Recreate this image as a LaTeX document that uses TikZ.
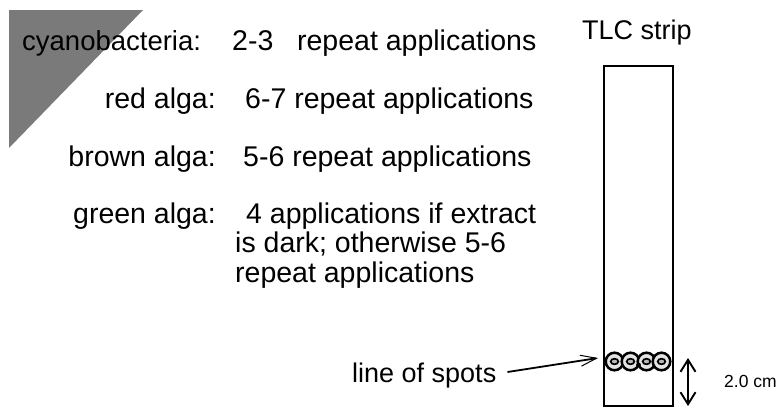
\documentclass[tikz,border=0pt]{standalone}
\usepackage{fontspec}
\setmainfont{Liberation Sans}
\usetikzlibrary{arrows.meta}

\tikzset{
  big/.style={inner sep=0pt, font=\fontsize{28.5}{33}\selectfont},
  mid/.style={inner sep=0pt, font=\fontsize{27}{32}\selectfont},
  small/.style={inner sep=0pt, font=\fontsize{17.5}{21}\selectfont},
  lbl/.style={big, anchor=base east},
  val/.style={big, anchor=base west},
  spot/.style={draw=black, line width=2.5pt, fill=gray!22},
  spotcore/.style={draw=black, line width=1.7pt, fill=gray!55},
  pointer/.style={line width=1.8pt, -{Straight Barb[length=16pt,width=11pt,line width=1pt]}},
  span/.style={line width=1.7pt, {Straight Barb[length=12pt,width=15pt,line width=1.9pt]}-{Straight Barb[length=12pt,width=15pt,line width=1.9pt]}}
}

\begin{document}
\begin{tikzpicture}[x=1pt, y=-1pt]
\useasboundingbox (0,0) rectangle (784,407);

% shaded corner
\fill[black!52] (9,10) -- (143,10) -- (9,148) -- cycle;

% algae and number of applications
\node[val, font=\fontsize{27.5}{33}\selectfont] (cyanoL) at (22,50) {cyanobacteria:};
\node[val] (cyanoV) at (232,50) {2-3\ \ \ repeat applications};

\node[lbl] (redL) at (216,108) {red alga:};
\node[val] (redV) at (245,108) {6-7 repeat applications};

\node[lbl] (brownL) at (216,166) {brown alga:};
\node[val] (brownV) at (243,166) {5-6 repeat applications};

\node[lbl] (greenL) at (216,223) {green alga:};
\node[val] (greenV1) at (246,223) {4 applications if extract};
\node[val] (greenV2) at (235,252.5) {is dark; otherwise 5-6};
\node[val] (greenV3) at (235,282) {repeat applications};

% TLC strip
\node[mid, anchor=base west] (title) at (582,39) {TLC strip};
\node[draw=black, line width=1.6pt, inner sep=0pt, minimum width=69pt, minimum height=340pt,
      anchor=north west] (strip) at (603,65) {};

% line of spots
\foreach \cx in {614.5,630.5,646.5,661.5} {
  \draw[spot] (\cx,361.5) circle (8.8);
}
\foreach \cx in {614.5,630.5,646.5,661.5} {
  \draw[spotcore] (\cx,361.5) ellipse (3.8 and 2.8);
}
\fill[black] (638.5,365) circle (2.4);
\coordinate (spotsW) at (598,358);

\node[mid, anchor=base west] (los) at (352,382) {line of spots};
\draw[pointer] ([xshift=11pt,yshift=10pt]los.base east) -- (spotsW);

% origin distance
\coordinate (spanTop) at (688,358);
\coordinate (spanBot) at (688,406);
\draw[span] (spanTop) -- (spanBot);
\node[small, anchor=base west] (dist) at (724,387) {2.0 cm};
\end{tikzpicture}
\end{document}
